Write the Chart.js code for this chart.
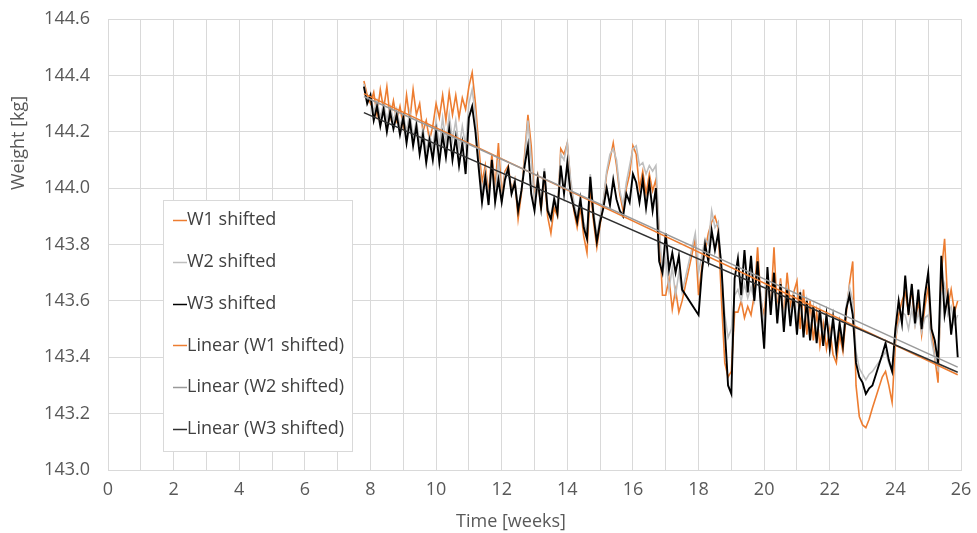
<!DOCTYPE html>
<html><head><meta charset="utf-8">
<script src="https://cdn.jsdelivr.net/npm/chart.js@4"></script>
<style>html,body{margin:0;padding:0;background:#fff}#wrap{width:977px;height:533px}</style>
</head><body><div id="wrap"><canvas id="c" width="977" height="533"></canvas></div>
<script>
const weeks = [7.8,7.9,8.0,8.1,8.2,8.3,8.4,8.5,8.6,8.7,8.8,8.9,
9.0,9.1,9.2,9.3,9.4,9.5,9.6,9.7,9.8,9.9,
10.0,10.1,10.2,10.3,10.4,10.5,10.6,10.7,10.8,10.9,
11.0,11.1,11.2,11.3,11.4,11.5,11.6,11.7,11.8,11.9,
12.0,12.1,12.2,12.3,12.4,12.5,12.6,12.7,12.8,12.9,
13.0,13.1,13.2,13.3,13.4,13.5,13.6,13.7,13.8,13.9,
14.0,14.1,14.2,14.3,14.4,14.5,14.6,14.7,14.8,14.9,
15.0,15.1,15.2,15.3,15.4,15.5,15.6,15.7,15.8,15.9,
16.0,16.1,16.2,16.3,16.4,16.5,16.6,16.7,16.8,16.9,
17.0,17.1,17.2,17.3,17.4,17.5,17.6,17.7,17.8,17.9,
18.0,18.1,18.2,18.3,18.4,18.5,18.6,18.7,18.8,18.9,
19.0,19.1,19.2,19.3,19.4,19.5,19.6,19.7,19.8,19.9,
20.0,20.1,20.2,20.3,20.4,20.5,20.6,20.7,20.8,20.9,
21.0,21.1,21.2,21.3,21.4,21.5,21.6,21.7,21.8,21.9,
22.0,22.1,22.2,22.3,22.4,22.5,22.6,22.7,22.8,22.9,
23.0,23.1,23.2,23.3,23.4,23.5,23.6,23.7,23.8,23.9,
24.0,24.1,24.2,24.3,24.4,24.5,24.6,24.7,24.8,24.9,
25.0,25.1,25.2,25.3,25.4,25.5,25.6,25.7,25.8,25.9];

const w1 = [144.38,144.33,144.30,144.34,144.26,144.35,144.28,144.36,144.25,144.31,144.24,144.29,
144.22,144.33,144.24,144.35,144.26,144.30,144.20,144.24,144.17,144.22,
144.30,144.25,144.33,144.24,144.34,144.26,144.33,144.25,144.32,144.28,
144.36,144.41,144.30,144.15,144.02,144.08,143.98,144.12,144.00,144.16,
143.97,144.06,144.08,143.99,144.03,143.89,143.98,144.12,144.26,144.15,
143.96,144.04,143.92,144.05,143.90,143.84,143.93,143.90,144.14,144.12,
144.16,144.02,143.92,143.86,143.93,143.83,143.77,144.00,143.88,143.79,
143.87,143.95,144.05,144.10,144.16,144.08,143.98,143.92,144.00,144.05,
144.15,144.12,144.00,144.06,143.98,144.05,143.99,144.03,143.85,143.62,
143.62,143.68,143.57,143.64,143.56,143.60,null,null,null,143.82,
143.62,143.72,143.78,143.84,143.88,143.90,143.86,143.60,143.38,143.33,
143.35,143.56,143.56,143.60,143.54,143.58,143.55,143.62,143.79,143.60,
143.55,143.68,143.58,143.79,143.56,143.68,143.54,143.70,143.58,143.63,
143.67,143.50,143.64,143.48,143.60,143.46,143.56,143.44,143.52,143.43,
143.50,143.41,143.38,143.48,143.42,143.55,143.66,143.74,143.30,143.19,
143.16,143.15,143.18,143.22,null,null,143.33,143.35,143.30,143.24,
143.45,143.55,143.60,143.63,143.56,143.64,143.52,143.60,143.48,143.58,
143.65,143.50,143.40,143.31,143.70,143.82,143.58,143.64,143.56,143.60];

const w2 = [144.37,144.31,144.33,144.27,144.31,144.25,144.30,144.24,144.29,144.24,144.28,144.22,
144.26,144.20,144.27,144.18,144.24,144.16,144.21,144.13,144.19,144.14,
144.24,144.15,144.25,144.16,144.26,144.17,144.24,144.14,144.22,144.15,
144.30,144.35,144.26,144.10,143.98,144.06,143.96,144.10,143.97,144.10,
143.95,144.05,144.07,143.98,144.03,143.93,143.99,144.10,144.24,144.10,
143.95,144.04,143.94,144.07,143.93,143.90,143.97,143.93,144.12,144.10,
144.16,144.03,143.95,143.90,143.97,143.88,143.84,144.05,143.92,143.83,
143.90,143.96,144.06,144.12,144.14,144.10,143.99,143.94,144.02,144.08,
144.14,144.15,144.08,144.09,144.05,144.08,144.06,144.08,143.86,143.70,
143.75,143.64,143.72,143.62,143.70,143.63,null,null,null,143.84,
143.70,143.76,143.82,143.80,143.92,143.86,143.88,143.70,143.55,143.47,
143.50,143.62,143.64,143.60,143.66,143.61,143.65,143.60,143.70,143.62,
143.50,143.68,143.58,143.68,143.56,143.65,143.54,143.64,143.55,143.62,
143.52,143.62,143.50,143.60,143.49,143.58,143.48,143.57,143.47,143.55,
143.46,143.53,143.45,143.52,143.46,143.58,143.65,143.60,143.42,143.36,
143.34,143.32,143.34,143.35,null,null,143.40,143.42,143.38,143.35,
143.47,143.52,143.56,143.55,143.50,143.57,143.51,143.56,143.49,143.54,
143.55,143.46,143.40,143.36,143.62,143.66,143.55,143.58,143.52,143.55];

const w3 = [144.36,144.30,144.33,144.24,144.29,144.22,144.28,144.20,144.27,144.21,144.26,144.19,
144.25,144.16,144.24,144.15,144.22,144.12,144.19,144.09,144.17,144.10,
144.20,144.09,144.19,144.11,144.21,144.10,144.18,144.08,144.16,144.05,
144.25,144.29,144.20,144.07,143.95,144.04,143.94,144.10,143.95,144.03,
143.95,144.03,144.07,143.98,144.02,143.92,143.99,144.08,144.15,143.98,
143.92,144.03,143.93,144.06,143.92,143.89,143.96,143.91,144.08,143.98,
144.09,143.98,143.93,143.88,143.96,143.86,143.82,144.04,143.90,143.81,
143.88,143.93,144.00,143.94,144.03,143.96,143.92,143.90,143.98,143.95,
144.05,144.02,143.95,144.03,143.93,144.02,143.92,144.00,143.74,143.70,
143.84,143.71,143.77,143.70,143.76,143.64,null,null,null,null,
143.55,143.70,143.80,143.74,143.85,143.78,143.84,143.72,143.50,143.30,
143.27,143.68,143.75,143.62,143.78,143.63,143.76,143.60,143.74,143.58,
143.43,143.72,143.55,143.70,143.52,143.66,143.49,143.64,143.51,143.62,
143.48,143.63,143.47,143.60,143.46,143.58,143.45,143.57,143.44,143.55,
143.43,143.54,143.42,143.52,143.44,143.57,143.62,143.55,143.38,143.33,
143.31,143.27,143.29,143.30,null,null,143.41,143.45,143.39,143.35,
143.50,143.60,143.52,143.69,143.55,143.66,143.52,143.64,143.50,143.62,
143.70,143.50,143.46,143.38,143.76,143.55,143.62,143.48,143.58,143.40];

const trendWeeks = [7.8, 25.9];
const trend1 = [144.335, 143.338];
const trend2 = [144.325, 143.365];
const trend3 = [144.268, 143.347];

const seriesNames = ['W1 shifted','W2 shifted','W3 shifted','Linear (W1 shifted)','Linear (W2 shifted)','Linear (W3 shifted)'];
const seriesColors = ['#ED7D31','#BFBFBF','#000000','#ED7D31','#9A9A9A','#303030'];
const seriesWidths = [1.6, 1.6, 1.9, 1.5, 1.5, 1.5];
const xTitle = 'Time [weeks]';
const yTitle = 'Weight [kg]';

const FONT = '"Open Sans", sans-serif';
const pts = (xs, ys) => xs.map((x, i) => ({x: x, y: ys[i]}));
const allData = [pts(weeks,w1), pts(weeks,w2), pts(weeks,w3), pts(trendWeeks,trend1), pts(trendWeeks,trend2), pts(trendWeeks,trend3)];
const orders = [6,5,4,3,2,1];

const overlay = {
  id: 'overlay',
  afterDraw(chart) {
    const ctx = chart.ctx;
    ctx.save();
    ctx.fillStyle = '#595959';
    ctx.font = '18px ' + FONT;
    ctx.textAlign = 'center';
    ctx.textBaseline = 'middle';
    ctx.fillText(xTitle, 511, 522);
    ctx.save();
    ctx.translate(19, 143);
    ctx.rotate(-Math.PI/2);
    ctx.fillText(yTitle, 0, 0);
    ctx.restore();
    const bx = 163, by = 200, bw = 189, bh = 251;
    ctx.fillStyle = '#ffffff';
    ctx.fillRect(bx, by, bw, bh);
    ctx.strokeStyle = '#D9D9D9';
    ctx.lineWidth = 1;
    ctx.strokeRect(bx + 0.5, by + 0.5, bw, bh);
    ctx.textAlign = 'left';
    ctx.font = '18px ' + FONT;
    chart.data.datasets.forEach((ds, i) => {
      const y = 220 + i * 41.8;
      ctx.strokeStyle = ds.borderColor;
      ctx.lineWidth = 1.5;
      ctx.beginPath();
      ctx.moveTo(173, Math.round(y) + 0.5);
      ctx.lineTo(187, Math.round(y) + 0.5);
      ctx.stroke();
      ctx.fillStyle = '#404040';
      ctx.fillText(ds.label, 187, y);
    });
    ctx.restore();
  }
};

new Chart(document.getElementById('c'), {
  type: 'line',
  data: {
    datasets: seriesNames.map((name, i) => ({
      label: name,
      data: allData[i],
      borderColor: seriesColors[i],
      backgroundColor: seriesColors[i],
      borderWidth: seriesWidths[i],
      pointRadius: 0,
      tension: 0,
      spanGaps: true,
      order: orders[i]
    }))
  },
  options: {
    responsive: false,
    animation: false,
    layout: { padding: { left: 0, right: 16, top: 19, bottom: 0 } },
    plugins: { legend: { display: false }, tooltip: { enabled: false } },
    scales: {
      x: {
        type: 'linear', min: 0, max: 26,
        afterFit: (s) => { s.height = 63; s.paddingLeft = 0; s.paddingRight = 0; },
        grid: { color: '#D9D9D9', lineWidth: 1, drawTicks: false },
        border: { color: '#D9D9D9' },
        ticks: {
          stepSize: 1, autoSkip: false, maxRotation: 0, padding: 9,
          color: '#595959', font: { family: FONT, size: 18 },
          callback: (v) => (Math.round(v) % 2 === 0 ? String(Math.round(v)) : '')
        }
      },
      y: {
        type: 'linear', min: 143.0, max: 144.6,
        afterFit: (s) => { s.width = 108; s.paddingTop = 0; s.paddingBottom = 0; },
        grid: { color: '#D9D9D9', lineWidth: 1, drawTicks: false },
        border: { color: '#D9D9D9' },
        ticks: {
          stepSize: 0.2, padding: 18,
          color: '#595959', font: { family: FONT, size: 18 },
          callback: (v) => Number(v).toFixed(1)
        }
      }
    }
  },
  plugins: [overlay]
});
</script>
</body></html>
